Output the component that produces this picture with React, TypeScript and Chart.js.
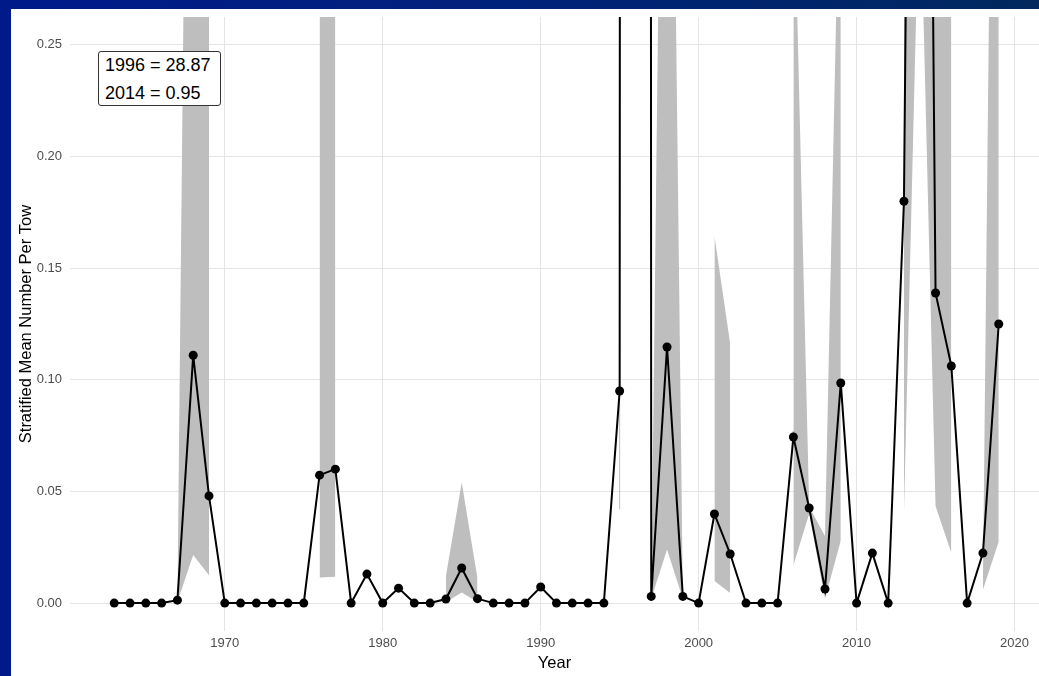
import React, { useEffect, useRef } from "react";
import { Chart, registerables } from "chart.js";

Chart.register(...registerables);

const N = null;

// Survey years (x categories)
const years = [
  1963, 1964, 1965, 1966, 1967, 1968, 1969, 1970, 1971, 1972,
  1973, 1974, 1975, 1976, 1977, 1978, 1979, 1980, 1981, 1982,
  1983, 1984, 1985, 1986, 1987, 1988, 1989, 1990, 1991, 1992,
  1993, 1994, 1995, 1996, 1997, 1998, 1999, 2000, 2001, 2002,
  2003, 2004, 2005, 2006, 2007, 2008, 2009, 2010, 2011, 2012,
  2013, 2014, 2015, 2016, 2017, 2018, 2019,
];

// Stratified mean number per tow
const meanPerTow = [
  0, 0, 0, 0, 0.0013, 0.111, 0.048, 0, 0, 0,
  0, 0, 0, 0.0573, 0.06, 0, 0.013, 0, 0.0067, 0,
  0, 0.0018, 0.0157, 0.002, 0, 0, 0, 0.0072, 0, 0,
  0, 0, 0.095, 28.87, 0.003, 0.1147, 0.003, 0, 0.0399, 0.022,
  0, 0, 0, 0.0744, 0.0426, 0.0063, 0.0986, 0, 0.0224, 0,
  0.18, 0.95, 0.1389, 0.1062, 0, 0.0224, 0.125,
];

// Confidence band, lower limit (null = no band)
const ciLower = [
  N, N, N, N, 0.0005, 0.0215, 0.0125, N, N, N,
  N, N, N, 0.0115, 0.0118, N, N, N, N, N,
  N, 0.0005, 0.0047, 0.0005, N, N, N, N, N, N,
  N, N, 0.042, N, 0.002, 0.024, 0.002, N, 0.0099, 0.0045,
  N, N, N, 0.017, 0.04, 0.002, 0.028, N, N, N,
  0.04, 0.33, 0.0435, 0.0224, N, 0.006, 0.0276,
];

// Confidence band, upper limit (null = no band)
const ciUpper = [
  N, N, N, N, 0.0015, 0.69, 0.6, N, N, N,
  N, N, N, 1.0, 1.0, N, N, N, N, N,
  N, 0.012, 0.054, 0.011, N, N, N, N, N, N,
  N, N, 0.4, N, 0.004, 0.6, 0.004, N, 0.1645, 0.116,
  N, N, N, 0.335, 0.043, 0.03, 0.36, N, N, N,
  0.5, 1.5, 0.8, 0.5, N, 0.009, 0.676,
];

const xTicks = [1970, 1980, 1990, 2000, 2010, 2020];
const yTicks = [0, 0.05, 0.1, 0.15, 0.2, 0.25];

const X_MIN = 1960.2;
const X_MAX = 2021.55;
const Y_MIN = -0.0125;
const Y_MAX = 0.2625;

const FONT = "'Liberation Sans', Arial, Helvetica, sans-serif";
const RIBBON = "#bebebe";

export default function App() {
  const ref = useRef<HTMLCanvasElement | null>(null);

  useEffect(() => {
    const canvas = ref.current;
    if (!canvas) return;

    const meanPts = years.map((x, i) => ({ x, y: meanPerTow[i] }));
    const upperPts = years.map((x, i) => ({ x, y: ciUpper[i] }));
    const lowerPts = years.map((x, i) => ({ x, y: ciLower[i] }));
    const single: { x: number; y: number | null }[] = [];
    years.forEach((x, i) => {
      const lo = ciLower[i];
      if (lo == null) return;
      const prev = i > 0 ? ciLower[i - 1] : null;
      const next = i < years.length - 1 ? ciLower[i + 1] : null;
      if (prev == null && next == null) {
        if (single.length) single.push({ x, y: null });
        single.push({ x, y: lo }, { x, y: ciUpper[i] as number });
      }
    });

    const chart = new Chart(canvas, {
      type: "line",
      data: {
        datasets: [
          {
            label: "mean",
            data: meanPts,
            borderColor: "#000000",
            backgroundColor: "#000000",
            borderWidth: 2,
            pointRadius: 4.5,
            pointHoverRadius: 4.5,
            pointBackgroundColor: "#000000",
            pointBorderWidth: 0,
            fill: false,
            tension: 0,
          },
          {
            label: "upper",
            data: upperPts,
            borderColor: "rgba(0,0,0,0)",
            borderWidth: 0,
            pointRadius: 0,
            backgroundColor: RIBBON,
            fill: "+1",
            tension: 0,
          },
          {
            label: "lower",
            data: lowerPts,
            borderColor: "rgba(0,0,0,0)",
            borderWidth: 0,
            pointRadius: 0,
            fill: false,
            tension: 0,
          },
          {
            label: "single",
            data: single,
            borderColor: RIBBON,
            borderWidth: 1,
            pointRadius: 0,
            fill: false,
            tension: 0,
          },
        ],
      },
      options: {
        animation: false,
        responsive: false,
        events: [],
        layout: { autoPadding: false, padding: { top: 8, left: 0, right: 0, bottom: 0 } },
        plugins: {
          legend: { display: false },
          tooltip: { enabled: false },
        },
        scales: {
          x: {
            type: "linear",
            min: X_MIN,
            max: X_MAX,
            afterBuildTicks: (s: any) => {
              s.ticks = xTicks.map((v) => ({ value: v }));
            },
            afterFit: (s: any) => {
              s.height = 45;
              s.paddingLeft = 0;
              s.paddingRight = 0;
            },
            ticks: {
              autoSkip: false,
              maxRotation: 0,
              padding: 5,
              color: "#4d4d4d",
              font: { family: FONT, size: 13 },
              callback: (v: any) => String(v),
            },
            grid: { color: "#e4e4e4", lineWidth: 1, drawTicks: false },
            border: { display: false },
            title: {
              display: true,
              text: "Year",
              color: "#000000",
              font: { family: FONT, size: 16.5 },
              padding: { top: 0, bottom: 3 },
            },
          },
          y: {
            type: "linear",
            min: Y_MIN,
            max: Y_MAX,
            afterBuildTicks: (s: any) => {
              s.ticks = yTicks.map((v) => ({ value: v }));
            },
            afterFit: (s: any) => {
              s.width = 59;
              s.paddingTop = 0;
              s.paddingBottom = 0;
            },
            ticks: {
              autoSkip: false,
              padding: 8,
              color: "#4d4d4d",
              font: { family: FONT, size: 13 },
              callback: (v: any) => Number(v).toFixed(2),
            },
            grid: { color: "#e4e4e4", lineWidth: 1, drawTicks: false },
            border: { display: false },
            title: {
              display: true,
              text: "Stratified Mean Number Per Tow",
              color: "#000000",
              font: { family: FONT, size: 16.5 },
              padding: { top: 6, bottom: 0 },
            },
          },
        },
      },
    } as any);

    return () => chart.destroy();
  }, []);

  const notes = years
    .map((yr, i) => ({ yr, v: meanPerTow[i] }))
    .filter((d) => d.v > Y_MAX)
    .map((d) => `${d.yr} = ${d.v.toFixed(2)}`);

  return (
    <div
      style={{
        position: "fixed",
        left: 0,
        top: 0,
        width: 1039,
        height: 676,
        overflow: "hidden",
        background: "linear-gradient(to right, #011a8b 0%, #01227a 50%, #02285e 100%)",
      }}
    >
      <div
        style={{
          position: "absolute",
          left: 11,
          top: 9,
          width: 1028,
          height: 667,
          background: "#ffffff",
        }}
      >
        <canvas ref={ref} width={1028} height={667} style={{ display: "block" }} />
      </div>
      <div
        style={{
          position: "absolute",
          left: 98,
          top: 51,
          width: 123,
          height: 55,
          boxSizing: "border-box",
          border: "1px solid #333333",
          borderRadius: 3,
          background: "#ffffff",
          fontFamily: FONT,
          fontSize: 18,
          lineHeight: "27.7px",
          color: "#000000",
          paddingLeft: 6,
          paddingTop: 0,
          whiteSpace: "nowrap",
        }}
      >
        {notes.map((t) => (
          <div key={t}>{t}</div>
        ))}
      </div>
    </div>
  );
}
